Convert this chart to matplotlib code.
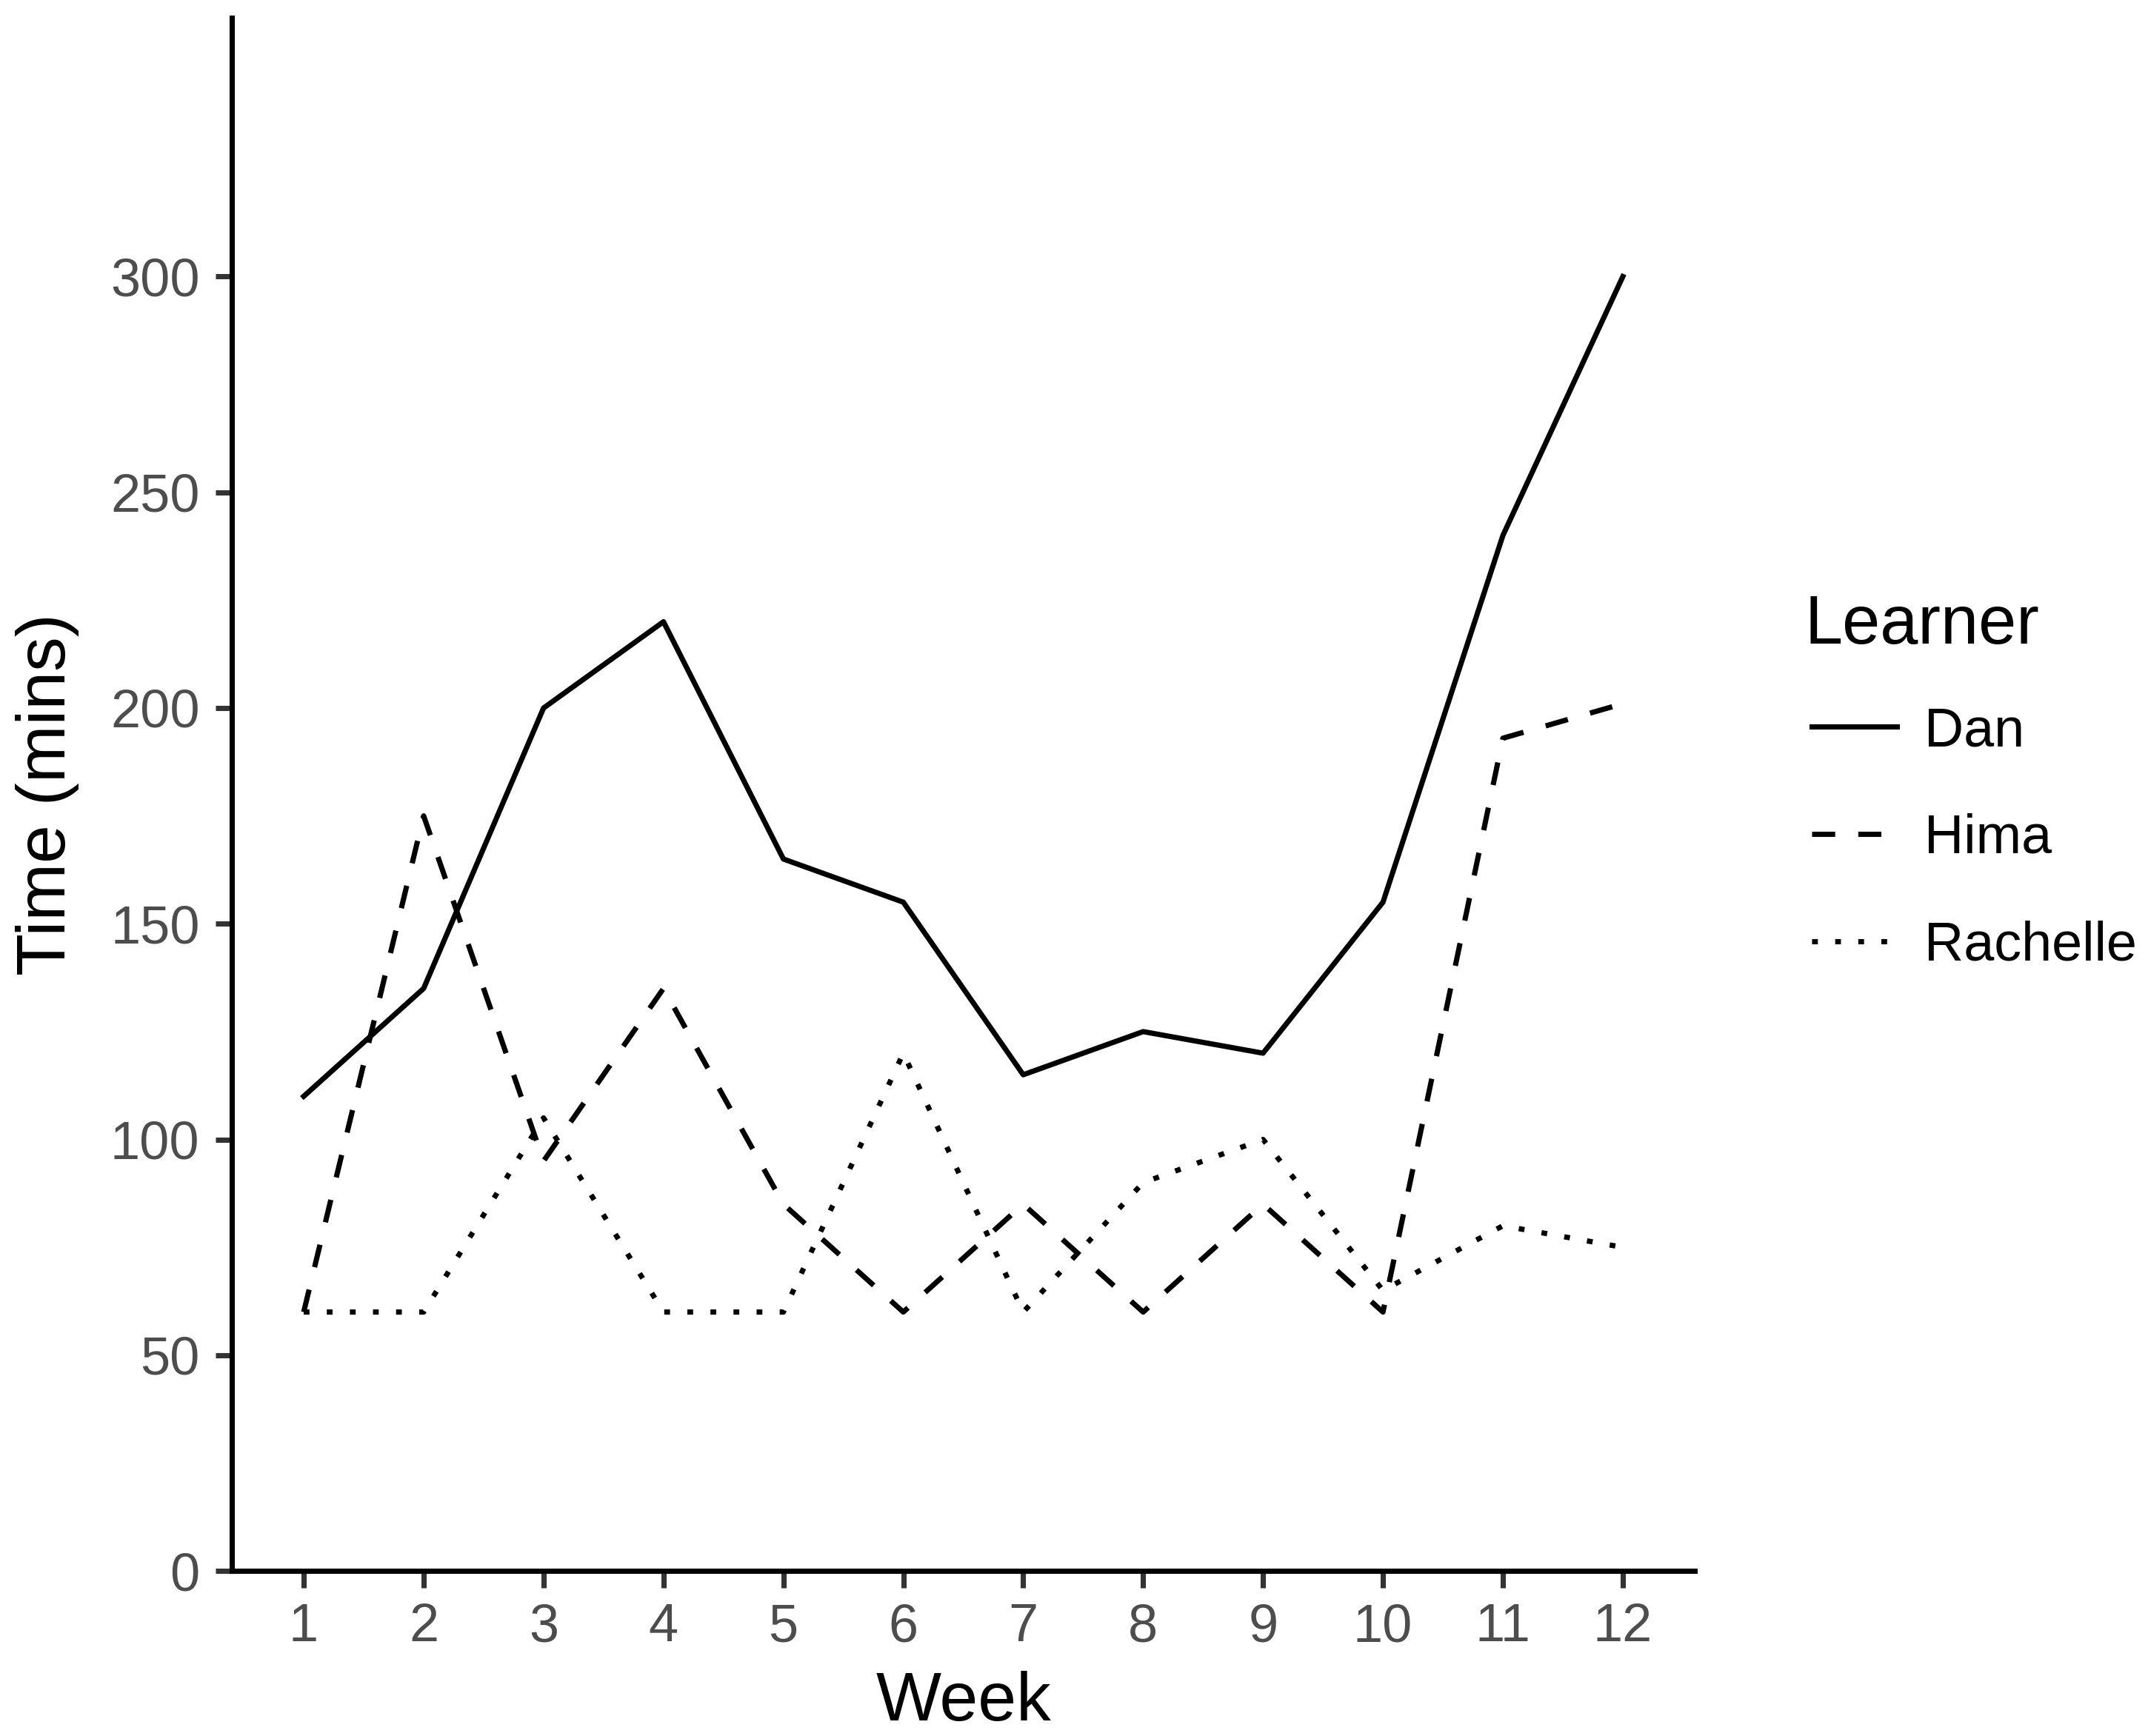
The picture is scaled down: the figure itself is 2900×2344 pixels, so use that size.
import matplotlib
matplotlib.use("Agg")
from matplotlib import pyplot as plt

plt.rcParams['font.family'] = ['Liberation Sans', 'DejaVu Sans']

weeks = list(range(1, 13))
dan = [110, 135, 200, 220, 165, 155, 115, 125, 120, 155, 240, 300]
hima = [60, 175, 95, 135, 85, 60, 85, 60, 85, 60, 193, 201]
rachelle = [60, 60, 105, 60, 60, 120, 60, 90, 100, 65, 80, 75]
learners = ["Dan", "Hima", "Rachelle"]
y_ticks = [0, 50, 100, 150, 200, 250, 300]

W, H = 2900, 2344
fig = plt.figure(figsize=(W / 300, H / 300), dpi=300)
ax = fig.add_axes([0.1079, 0.0951, 0.789 - 0.1079, 0.9898 - 0.0951])

lw = 1.7
ax.plot(weeks, dan, color="black", lw=lw, linestyle="-", label=learners[0])
ax.plot(weeks, hima, color="black", lw=lw, linestyle=(0, (4.4, 4.4)), label=learners[1])
ax.plot(weeks, rachelle, color="black", lw=lw, linestyle=(0, (1.1, 3.3)), label=learners[2])

ax.set_xlim(0.4, 12.6)
ax.set_ylim(0, 360)
ax.set_xticks(weeks)
ax.set_yticks(y_ticks)

for s in ["top", "right"]:
    ax.spines[s].set_visible(False)
for s in ["left", "bottom"]:
    ax.spines[s].set_linewidth(1.7)
    ax.spines[s].set_color("black")

ax.tick_params(axis="both", length=5.4, width=1.7, color="#333333",
               labelcolor="#4D4D4D", labelsize=17.3, pad=5)

ax.set_xlabel("Week", fontsize=22.4, color="black", labelpad=6)
ax.set_ylabel("Time (mins)", fontsize=22.4, color="black", labelpad=10)

# legend title drawn separately so the keys can sit slightly indented
fig.text(2437 / W, 1 - 869 / H, "Learner", fontsize=22.1, va="baseline", ha="left")
leg = ax.legend(loc="upper left",
                bbox_to_anchor=(2446 / W, 1 - 953 / H),
                bbox_transform=fig.transFigure, frameon=False,
                fontsize=17.7, handlelength=1.56, handletextpad=0.5,
                labelspacing=1.03, borderpad=0, borderaxespad=0)

fig.savefig("out.png", dpi=300)
